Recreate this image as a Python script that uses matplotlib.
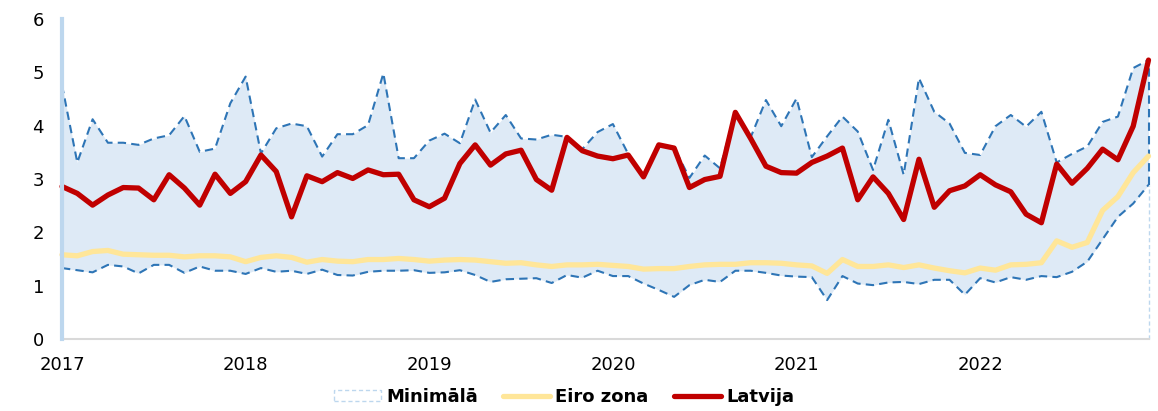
import matplotlib
matplotlib.use("Agg")
import matplotlib.pyplot as plt
from matplotlib.patches import Patch
from matplotlib.lines import Line2D
import numpy as np

years = ["2017", "2018", "2019", "2020", "2021", "2022"]

latvija = [2.86, 2.73, 2.51, 2.70, 2.84, 2.83, 2.61, 3.08, 2.83, 2.51, 3.09, 2.73,
           2.95, 3.45, 3.14, 2.29, 3.06, 2.95, 3.12, 3.01, 3.17, 3.08, 3.09, 2.61,
           2.48, 2.64, 3.29, 3.64, 3.26, 3.47, 3.54, 2.99, 2.79, 3.78, 3.53, 3.43,
           3.38, 3.45, 3.04, 3.64, 3.58, 2.84, 2.99, 3.05, 4.25, 3.76, 3.24, 3.12,
           3.11, 3.31, 3.43, 3.58, 2.61, 3.04, 2.73, 2.24, 3.37, 2.47, 2.78, 2.87,
           3.08, 2.89, 2.76, 2.34, 2.18, 3.28, 2.92, 3.20, 3.56, 3.36, 3.99, 5.23]

eiro_zona = [1.58, 1.56, 1.64, 1.66, 1.59, 1.58, 1.57, 1.57, 1.54, 1.56, 1.56, 1.54,
             1.45, 1.53, 1.56, 1.53, 1.44, 1.49, 1.46, 1.45, 1.49, 1.49, 1.51, 1.49,
             1.46, 1.48, 1.49, 1.48, 1.45, 1.42, 1.43, 1.39, 1.36, 1.39, 1.39, 1.40,
             1.38, 1.36, 1.31, 1.32, 1.32, 1.36, 1.39, 1.40, 1.40, 1.43, 1.43, 1.42,
             1.39, 1.37, 1.23, 1.49, 1.36, 1.36, 1.39, 1.34, 1.39, 1.33, 1.28, 1.24,
             1.33, 1.29, 1.39, 1.40, 1.43, 1.84, 1.72, 1.81, 2.41, 2.67, 3.12, 3.43]

maksimala = [4.76, 3.31, 4.12, 3.68, 3.68, 3.64, 3.76, 3.82, 4.18, 3.51, 3.57, 4.42,
             4.92, 3.48, 3.95, 4.04, 3.99, 3.42, 3.84, 3.84, 4.01, 4.98, 3.39, 3.39,
             3.72, 3.85, 3.67, 4.49, 3.87, 4.20, 3.76, 3.74, 3.83, 3.79, 3.56, 3.88,
             4.03, 3.47, 3.04, 3.64, 3.59, 3.02, 3.44, 3.20, 4.26, 3.78, 4.48, 3.99,
             4.51, 3.41, 3.80, 4.17, 3.89, 3.17, 4.11, 3.08, 4.89, 4.26, 4.04, 3.49,
             3.45, 3.99, 4.20, 3.98, 4.26, 3.31, 3.47, 3.61, 4.07, 4.17, 5.08, 5.23]

minimala = [1.33, 1.29, 1.25, 1.39, 1.36, 1.23, 1.39, 1.39, 1.24, 1.36, 1.28, 1.28,
            1.22, 1.33, 1.26, 1.28, 1.22, 1.30, 1.20, 1.19, 1.26, 1.28, 1.28, 1.29,
            1.24, 1.25, 1.29, 1.20, 1.07, 1.12, 1.13, 1.14, 1.05, 1.20, 1.15, 1.28,
            1.18, 1.18, 1.04, 0.92, 0.79, 1.01, 1.11, 1.07, 1.28, 1.28, 1.24, 1.19,
            1.17, 1.16, 0.73, 1.18, 1.04, 1.01, 1.06, 1.07, 1.03, 1.11, 1.11, 0.83,
            1.14, 1.06, 1.16, 1.11, 1.18, 1.16, 1.26, 1.45, 1.87, 2.29, 2.54, 2.89]

legend_labels = ["Minimālā", "Eiro zona", "Latvija"]

plt.rcParams['font.family'] = ['DejaVu Sans']

W, H = 1158, 411
fig = plt.figure(figsize=(W / 100, H / 100), dpi=100)
ax = fig.add_axes([62 / W, 72 / H, (1148.5 - 62) / W, (392 - 72) / H])

x = np.arange(len(latvija))
fill_col = "#DEEAF6"
dash_col = "#2E75B6"
light_col = "#BDD7EE"

ax.fill_between(x, minimala, maksimala, color=fill_col, lw=0, zorder=1)
ax.plot(x, maksimala, color=dash_col, lw=1.5, ls=(0, (4, 2.5)), zorder=2, clip_on=False)
ax.plot(x, minimala, color=dash_col, lw=1.5, ls=(0, (4, 2.5)), zorder=2, clip_on=False)
ax.vlines(x[-1], minimala[-1], maksimala[-1], color=dash_col, lw=1.5,
          linestyles=[(0, (4, 2.5))], zorder=2, clip_on=False)
ax.vlines(x[-1], 0, minimala[-1], color=light_col, lw=1.0,
          linestyles=[(0, (3, 2))], zorder=2, clip_on=False)
ax.plot(x, eiro_zona, color="#FFE699", lw=3.8, zorder=3, solid_joinstyle='round',
        solid_capstyle='round', clip_on=False)
ax.plot(x, latvija, color="#C00000", lw=3.8, zorder=4, solid_joinstyle='round',
        solid_capstyle='round', clip_on=False)

ax.set_xlim(0, len(latvija) - 1)
ax.set_ylim(0, 6)
ax.set_yticks(range(0, 7))
ax.set_xticks(np.arange(0, len(latvija), 12))
ax.set_xticklabels(years)
ax.tick_params(axis='both', length=0, labelsize=13, colors='#000000')
ax.tick_params(axis='y', pad=13)
ax.tick_params(axis='x', pad=12)

for s in ['top', 'right']:
    ax.spines[s].set_visible(False)
ax.spines['left'].set_color(light_col)
ax.spines['left'].set_linewidth(3)
ax.spines['left'].set_zorder(5)
ax.spines['bottom'].set_color('#D9D9D9')
ax.spines['bottom'].set_linewidth(1.5)

handles = [
    Patch(facecolor='white', edgecolor=light_col, linestyle=(0, (3, 2)), lw=1.0),
    Line2D([0], [0], color="#FFE699", lw=3.8, solid_capstyle='round'),
    Line2D([0], [0], color="#C00000", lw=3.8, solid_capstyle='round'),
]
leg = fig.legend(handles, legend_labels, loc='center', ncol=3,
                 bbox_to_anchor=(0.487, 14 / H), frameon=False,
                 prop={'size': 13, 'weight': 'bold'},
                 handlelength=2.6, handletextpad=0.3, columnspacing=1.4,
                 handleheight=0.6)

fig.savefig("out.png", dpi=100)
